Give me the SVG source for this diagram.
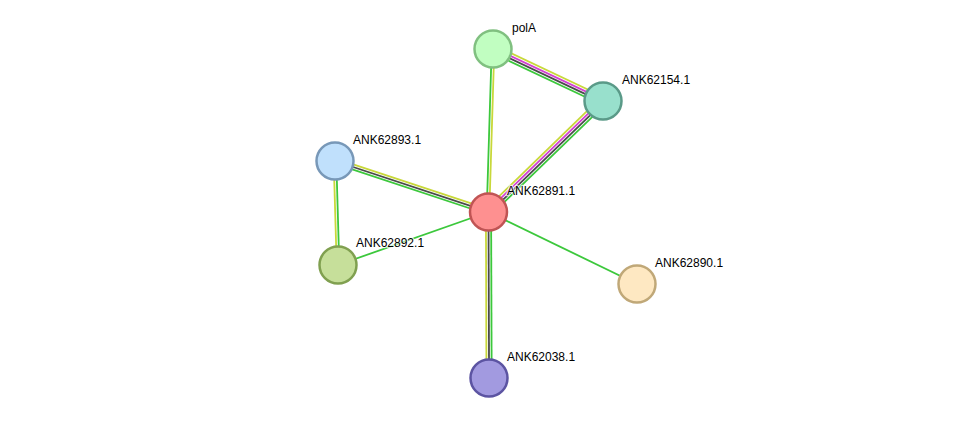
<svg xmlns="http://www.w3.org/2000/svg" width="976" height="424" viewBox="0 0 976 424">
<style>
.y{stroke:#c8d83a}.m{stroke:#d23fd2}.d{stroke:#4a4a4a}.g{stroke:#3cc83c}
#edges line{stroke-width:1.8;fill:none}
.n circle{stroke-width:2.5}
.n text{font-family:"Liberation Sans",Arial,sans-serif;font-size:12px;fill:#000;stroke:#fff;stroke-width:2.5;stroke-opacity:0.7;paint-order:stroke;stroke-linejoin:round}
</style>
<rect width="976" height="424" fill="#fff"/>
<g id="edges">
  <g transform="translate(493,49) rotate(25.3)">
    <line class="y" x1="0" y1="-3.9" x2="121.7" y2="-3.9"/>
    <line class="m" x1="0" y1="-1.3" x2="121.7" y2="-1.3"/>
    <line class="d" x1="0" y1="1.3" x2="121.7" y2="1.3"/>
    <line class="g" x1="0" y1="3.9" x2="121.7" y2="3.9"/>
  </g>
  <g transform="translate(493,49) rotate(91.76)">
    <line class="y" x1="0" y1="-1.3" x2="163.1" y2="-1.3"/>
    <line class="g" x1="0" y1="1.3" x2="163.1" y2="1.3"/>
  </g>
  <g transform="translate(488.5,212) rotate(-44.1)">
    <line class="y" x1="0" y1="-3.9" x2="159.5" y2="-3.9"/>
    <line class="m" x1="0" y1="-1.3" x2="159.5" y2="-1.3"/>
    <line class="d" x1="0" y1="1.3" x2="159.5" y2="1.3"/>
    <line class="g" x1="0" y1="3.9" x2="159.5" y2="3.9"/>
  </g>
  <g transform="translate(335,161) rotate(18.3)">
    <line class="y" x1="0" y1="-2.6" x2="161.7" y2="-2.6"/>
    <line class="d" x1="0" y1="0" x2="161.7" y2="0"/>
    <line class="g" x1="0" y1="2.6" x2="161.7" y2="2.6"/>
  </g>
  <g transform="translate(335,161) rotate(88.35)">
    <line class="g" x1="0" y1="-1.3" x2="104" y2="-1.3"/>
    <line class="y" x1="0" y1="1.3" x2="104" y2="1.3"/>
  </g>
  <g transform="translate(488.5,212) rotate(89.8)">
    <line class="g" x1="0" y1="-2.6" x2="166" y2="-2.6"/>
    <line class="d" x1="0" y1="0" x2="166" y2="0"/>
    <line class="y" x1="0" y1="2.6" x2="166" y2="2.6"/>
  </g>
  <line class="g" x1="338" y1="265" x2="488.5" y2="212"/>
  <line class="g" x1="488.5" y1="212" x2="637" y2="284"/>
</g>
<g id="polA" class="n"><circle cx="493" cy="49" r="18.5" fill="#c1fec1" stroke="#80c080"/><text x="512" y="32">polA</text></g>
<g id="ANK62154.1" class="n"><circle cx="603" cy="101" r="18.5" fill="#98e0cc" stroke="#5a9a88"/><text x="622" y="84">ANK62154.1</text></g>
<g id="ANK62893.1" class="n"><circle cx="335" cy="161" r="18.5" fill="#c0e0fc" stroke="#7898b8"/><text x="353" y="144">ANK62893.1</text></g>
<g id="ANK62891.1" class="n"><circle cx="488.5" cy="212" r="18.5" fill="#fe9090" stroke="#c05454"/><text x="507" y="195">ANK62891.1</text></g>
<g id="ANK62892.1" class="n"><circle cx="338" cy="265" r="18.5" fill="#c6df9a" stroke="#80a050"/><text x="356" y="247">ANK62892.1</text></g>
<g id="ANK62890.1" class="n"><circle cx="637" cy="284" r="18.5" fill="#fee8c2" stroke="#c0a878"/><text x="655" y="267">ANK62890.1</text></g>
<g id="ANK62038.1" class="n"><circle cx="489" cy="378" r="18.5" fill="#a29ae0" stroke="#5c54a2"/><text x="507" y="361">ANK62038.1</text></g>
</svg>
